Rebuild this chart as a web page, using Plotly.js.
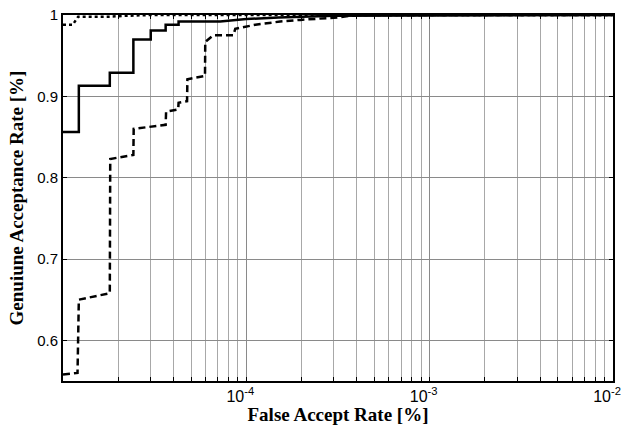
<!DOCTYPE html>
<html>
<head>
<meta charset="utf-8">
<script src="https://cdn.plot.ly/plotly-3.0.1.min.js"></script>
<style>html,body{margin:0;padding:0;background:#fff;}#chart{width:622px;height:425px;}</style>
</head>
<body>
<div id="chart"></div>
<script>
// Solid curve vertices (FAR, GAR)
const solidFAR = [1e-5, 1.22e-5, 1.22e-5, 1.80e-5, 1.80e-5, 2.42e-5, 2.42e-5, 3.01e-5, 3.01e-5, 3.63e-5, 3.63e-5, 4.27e-5, 4.27e-5, 7.2e-5, 1.0e-4, 1.5e-4, 3.0e-4, 1e-2];
const solidGAR = [0.856, 0.856, 0.913, 0.913, 0.929, 0.929, 0.970, 0.970, 0.981, 0.981, 0.988, 0.988, 0.992, 0.992, 0.995, 0.997, 0.999, 1.0];
// Dashed curve vertices
const dashFAR = [1e-5, 1.2e-5, 1.22e-5, 1.80e-5, 1.81e-5, 2.42e-5, 2.43e-5, 3.63e-5, 3.65e-5, 4.25e-5, 4.27e-5, 4.75e-5, 4.77e-5, 5.95e-5, 5.97e-5, 6.6e-5, 8.5e-5, 8.7e-5, 1.12e-4, 1.53e-4, 1.97e-4, 2.88e-4, 3.14e-4, 3.7e-4, 4.2e-4, 1e-2];
const dashGAR = [0.558, 0.560, 0.650, 0.658, 0.823, 0.828, 0.860, 0.865, 0.881, 0.884, 0.892, 0.894, 0.921, 0.925, 0.967, 0.975, 0.975, 0.983, 0.988, 0.992, 0.994, 0.996, 0.997, 0.999, 1.0, 1.0];
// Dotted curve vertices
const dotFAR = [1e-5, 1.13e-5, 1.21e-5, 1.8e-5, 2.2e-5, 3.0e-5, 1e-2];
const dotGAR = [0.988, 0.988, 0.998, 0.998, 0.999, 1.0, 1.0];

const xTickVals = [1e-4, 1e-3, 1e-2];
const xTickText = ['10<sup>-4</sup>', '10<sup>-3</sup>', '10<sup>-2</sup>'];
const xMinorVals = [];
[1e-5, 1e-4, 1e-3].forEach(function(dec){
  for (let m = 2; m <= 9; m++) xMinorVals.push(m * dec);
});
const yTickVals = [0.6, 0.7, 0.8, 0.9, 1];
const yTickText = ['0.6', '0.7', '0.8', '0.9', '1'];

const traces = [
  {x: dotFAR, y: dotGAR, mode: 'lines', line: {color: '#000', width: 2.5, dash: 'dot'}},
  {x: dashFAR, y: dashGAR, mode: 'lines', line: {color: '#000', width: 2.5, dash: '7px,4px'}},
  {x: solidFAR, y: solidGAR, mode: 'lines', line: {color: '#000', width: 2.5}}
];

const layout = {
  width: 622, height: 425,
  margin: {l: 63, r: 9, t: 15, b: 44},
  paper_bgcolor: '#fff', plot_bgcolor: '#fff',
  showlegend: false,
  font: {family: 'Liberation Sans, Arial, sans-serif', color: '#000', size: 14},
  xaxis: {
    type: 'log', range: [-5, -2],
    tickmode: 'array', tickvals: xTickVals, ticktext: xTickText,
    ticks: 'inside', ticklen: 4, tickcolor: '#000', tickwidth: 1,
    ticklabeloverflow: 'allow', ticklabelshift: -6, ticklabelstandoff: 0,
    showline: true, linecolor: '#000', linewidth: 2, mirror: 'ticks',
    showgrid: true, gridcolor: '#8a8a8a', gridwidth: 1,
    minor: {tickmode: 'array', tickvals: xMinorVals, ticks: 'inside', ticklen: 4, tickcolor: '#000', showgrid: true, gridcolor: '#a8a8a8', gridwidth: 1},
    zeroline: false,
    tickfont: {size: 16, family: 'Liberation Sans, Arial, sans-serif', color: '#000'},
    title: {text: 'False Accept Rate [%]', standoff: 0, font: {family: 'Liberation Serif, Times New Roman, serif', size: 19, color: '#000', weight: 'bold'}}
  },
  yaxis: {
    range: [0.55, 1.0],
    tickmode: 'array', tickvals: yTickVals, ticktext: yTickText,
    ticks: 'inside', ticklen: 4, tickcolor: '#000', tickwidth: 1,
    showline: true, linecolor: '#000', linewidth: 2, mirror: 'ticks',
    showgrid: true, gridcolor: '#8a8a8a', gridwidth: 1,
    zeroline: false,
    tickfont: {size: 15, family: 'Liberation Sans, Arial, sans-serif', color: '#000'},
    title: {text: 'Genuiune Acceptance Rate [%]', standoff: 8, font: {family: 'Liberation Serif, Times New Roman, serif', size: 19, color: '#000', weight: 'bold'}}
  }
};

Plotly.newPlot('chart', traces, layout, {staticPlot: true, displayModeBar: false});
</script>
</body>
</html>
